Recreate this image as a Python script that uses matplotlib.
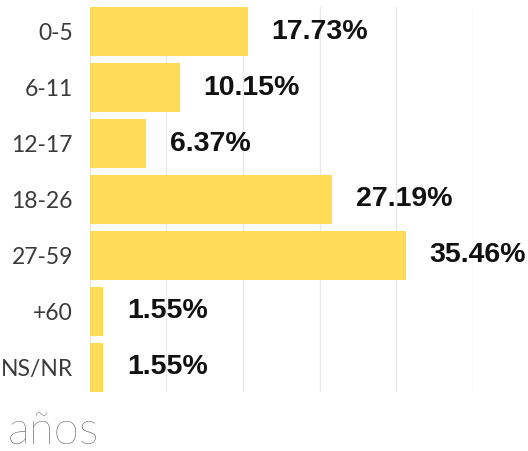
import numpy as np
import matplotlib.pyplot as plt

# age groups and share of cases (%)
groups = ['0-5', '6-11', '12-17', '18-26', '27-59', '+60', 'NS/NR']
shares = [17.73, 10.15, 6.37, 27.19, 35.46, 1.55, 1.55]
labels = ['17.73%', '10.15%', '6.37%', '27.19%', '35.46%', '1.55%', '1.55%']

BAR_COLOR = '#FFDB58'
XMAX = 43

fig = plt.figure(figsize=(5.28, 4.51), dpi=100)
ax = fig.add_axes([89.5/528, 1-391.7/451, (473-89.5)/528, (391.7-7.3)/451])

y = np.arange(len(groups))
bh = 49/55.9
ax.barh(y, shares, height=bh, color=BAR_COLOR, zorder=2)

ax.set_xlim(0, XMAX)
ax.set_ylim(len(groups)-0.5-(1-bh)/2, -0.5+(1-bh)/2)

for xv in np.linspace(0, XMAX, 6):
    ax.axvline(xv, color='#e9e9e9', lw=1, zorder=1)

for yi, v, lab in zip(y, shares, labels):
    ax.annotate(lab, (v, yi), xytext=(17, 0), textcoords='offset points',
                ha='left', va='center', fontsize=20.5, fontweight='bold',
                family=['Liberation Sans', 'DejaVu Sans'], color='#111111',
                clip_on=False)

ax.set_yticks(y)
ax.set_yticklabels(groups, family=['Lato', 'DejaVu Sans'], fontweight='normal',
                   fontsize=16.5, color='#3a3a3a')
ax.tick_params(axis='y', length=0, pad=12)
ax.set_xticks([])
for s in ax.spines.values():
    s.set_visible(False)

fig.text(8/528, 1-444/451, 'años', family=['Lato', 'DejaVu Sans'], fontweight='light',
         fontsize=33, color='#444444', ha='left', va='baseline')

fig.savefig('out.png', dpi=100)
